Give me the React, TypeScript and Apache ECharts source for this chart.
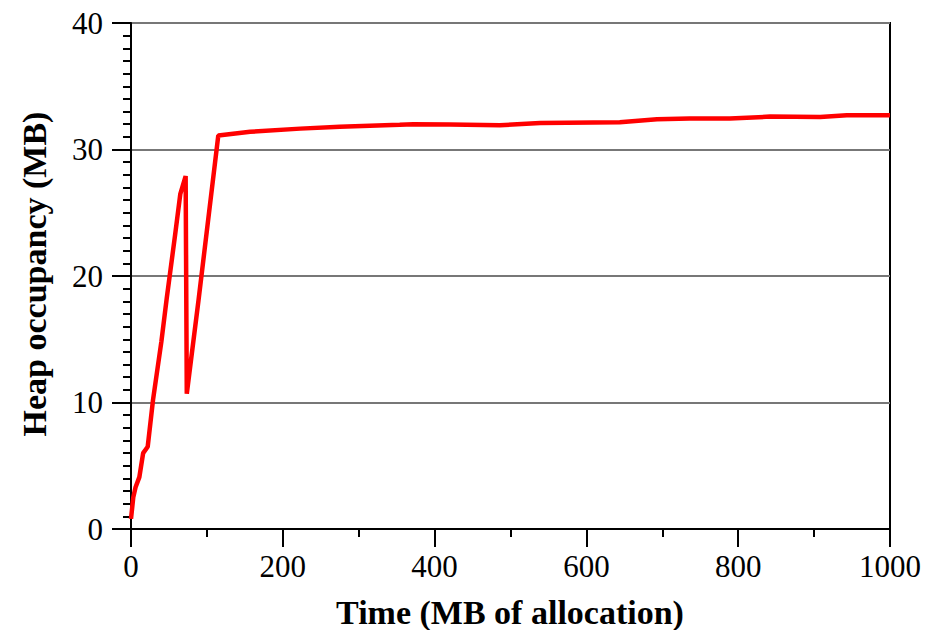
import React, { useEffect, useRef } from "react";
import * as echarts from "echarts";

const xValues = [0, 3, 6, 11, 16, 22, 29, 40, 47, 58, 65, 72, 73.5, 89, 115, 157, 223, 275, 354, 372, 420, 486, 539, 644, 693, 736, 789, 842, 908, 943, 1000];
const yValues = [0.8, 2.5, 3.3, 4.1, 6.0, 6.5, 10.2, 14.8, 18.2, 23.2, 26.5, 27.9, 10.7, 18.1, 31.1, 31.4, 31.65, 31.8, 31.95, 32.0, 31.98, 31.92, 32.1, 32.15, 32.4, 32.45, 32.45, 32.6, 32.57, 32.7, 32.7];

const xTitle = "Time (MB of allocation)";
const yTitle = "Heap occupancy (MB)";

const FONT = "'Liberation Serif', 'DejaVu Serif', serif";

export default function App() {
  const ref = useRef<HTMLDivElement>(null);
  useEffect(() => {
    if (!ref.current) return;
    const chart = echarts.init(ref.current, null, { renderer: "svg" });
    const data = xValues.map((x, i) => [x, yValues[i]]);
    chart.setOption({
      animation: false,
      backgroundColor: "#fff",
      grid: {
        left: 131,
        right: 47,
        top: 23,
        bottom: 101,
        show: true,
        borderColor: "#000",
        borderWidth: 2,
        backgroundColor: "transparent",
      },
      xAxis: {
        type: "value",
        min: 0,
        max: 1000,
        interval: 200,
        axisLine: { show: true, onZero: false, lineStyle: { color: "#000", width: 2 } },
        axisTick: { show: true, inside: false, length: 18, lineStyle: { color: "#000", width: 2 } },
        minorTick: { show: true, splitNumber: 2, length: 8, lineStyle: { color: "#000", width: 2 } },
        axisLabel: { color: "#000", fontFamily: FONT, fontSize: 31, margin: 22, formatter: (v: number) => String(v) },
        splitLine: { show: false },
      },
      yAxis: {
        type: "value",
        min: 0,
        max: 40,
        interval: 10,
        axisLine: { show: true, lineStyle: { color: "#000", width: 2 } },
        axisTick: { show: true, inside: false, length: 19, lineStyle: { color: "#000", width: 2 } },
        minorTick: { show: true, splitNumber: 10, length: 8, lineStyle: { color: "#000", width: 2 } },
        axisLabel: { color: "#000", fontFamily: FONT, fontSize: 31, margin: 28, formatter: (v: number) => String(v) },
        splitLine: { show: true, lineStyle: { color: "#777", width: 2 } },
      },
      series: [
        {
          type: "line",
          data,
          showSymbol: false,
          symbol: "none",
          lineStyle: { color: "#ff0000", width: 4.5 },
          z: 5,
        },
      ],
      graphic: [
        {
          type: "text",
          x: 510,
          y: 612,
          style: {
            text: xTitle,
            fontFamily: FONT,
            fontWeight: "bold",
            fontSize: 34,
            fill: "#000",
            align: "center",
            verticalAlign: "middle",
          },
        },
        {
          type: "text",
          x: 34,
          y: 274,
          rotation: Math.PI / 2,
          style: {
            text: yTitle,
            fontFamily: FONT,
            fontWeight: "bold",
            fontSize: 34,
            fill: "#000",
            align: "center",
            verticalAlign: "middle",
          },
        },
      ],
    });
    return () => chart.dispose();
  }, []);
  return (
    <div
      ref={ref}
      style={{ position: "absolute", left: 0, top: 0, width: 937, height: 630 }}
    />
  );
}
